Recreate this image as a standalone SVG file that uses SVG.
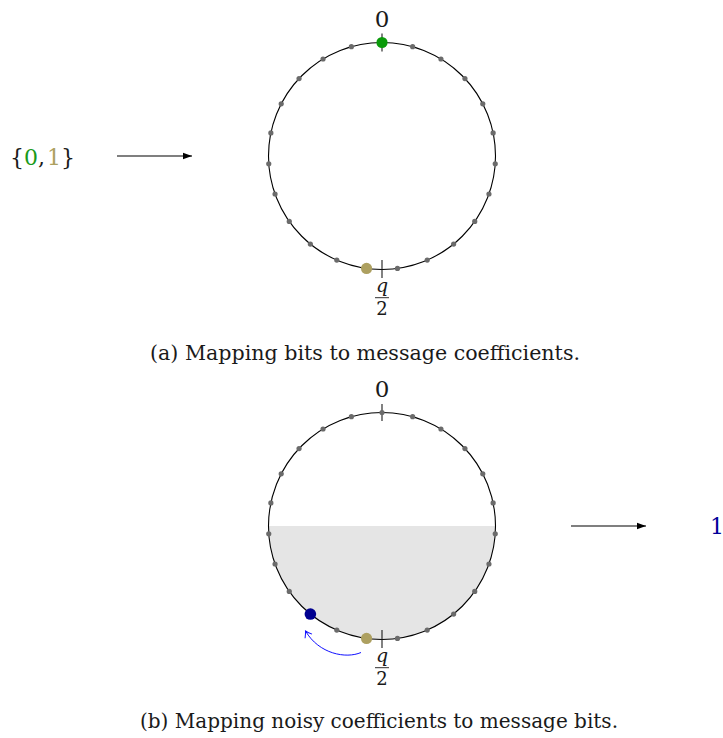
<svg xmlns="http://www.w3.org/2000/svg" width="723" height="738" viewBox="0 0 723 738">
<style>
text{font-family:"DejaVu Serif","Liberation Serif",serif}
.txt{fill:#1a1a1a}
.ring{fill:none;stroke:#000;stroke-width:1.1}
.dot{fill:#6b6b6b}
.tick{stroke:#1a1a1a;stroke-width:1.1}
.conn{stroke:#000;stroke-width:1.1;fill:none}
</style>
<defs>
<marker id="ah" markerWidth="10" markerHeight="8" refX="9" refY="4" orient="auto" markerUnits="userSpaceOnUse">
<path d="M0,0.8 L9,4 L0,7.2 Z" fill="#000"/>
</marker>
<marker id="ahBlue" markerWidth="10" markerHeight="10" refX="7" refY="5" orient="auto" markerUnits="userSpaceOnUse">
<path d="M1,1 Q5,4 7,5 Q5,6 1,9" fill="none" stroke="#1010ff" stroke-width="1"/>
</marker>
<g id="dots">
<circle class="dot" cx="382" cy="42.5" r="2.6"/>
<circle class="dot" cx="351.38" cy="46.71" r="2.6"/>
<circle class="dot" cx="323.03" cy="59.02" r="2.6"/>
<circle class="dot" cx="299.05" cy="78.53" r="2.6"/>
<circle class="dot" cx="281.22" cy="103.78" r="2.6"/>
<circle class="dot" cx="270.87" cy="132.91" r="2.6"/>
<circle class="dot" cx="268.76" cy="163.75" r="2.6"/>
<circle class="dot" cx="275.05" cy="194.01" r="2.6"/>
<circle class="dot" cx="289.27" cy="221.45" r="2.6"/>
<circle class="dot" cx="310.37" cy="244.04" r="2.6"/>
<circle class="dot" cx="336.78" cy="260.10" r="2.6"/>
<circle class="dot" cx="366.54" cy="268.44" r="2.6"/>
<circle class="dot" cx="397.46" cy="268.44" r="2.6"/>
<circle class="dot" cx="427.22" cy="260.10" r="2.6"/>
<circle class="dot" cx="453.63" cy="244.04" r="2.6"/>
<circle class="dot" cx="474.73" cy="221.45" r="2.6"/>
<circle class="dot" cx="488.95" cy="194.01" r="2.6"/>
<circle class="dot" cx="495.24" cy="163.75" r="2.6"/>
<circle class="dot" cx="493.13" cy="132.91" r="2.6"/>
<circle class="dot" cx="482.78" cy="103.78" r="2.6"/>
<circle class="dot" cx="464.95" cy="78.53" r="2.6"/>
<circle class="dot" cx="440.97" cy="59.02" r="2.6"/>
<circle class="dot" cx="412.62" cy="46.71" r="2.6"/>
</g>
</defs>

<!-- (a) -->
<g id="bits-a">
<text class="txt" x="10" y="165" font-size="22">{<tspan fill="#1a9a1a">0</tspan>,<tspan dx="2" fill="#ada060">1</tspan>}</text>
</g>
<g id="circle-a">
<circle class="ring" cx="382" cy="156" r="113.5"/>
<line class="tick" x1="382" y1="33.5" x2="382" y2="51.5"/>
<line class="tick" x1="382" y1="260" x2="382" y2="278"/>
<use href="#dots"/>
<circle cx="382" cy="42.5" r="5.6" fill="#0a9a0a"/>
<circle cx="366.54" cy="268.44" r="5.6" fill="#ada060"/>
<text class="txt" x="382" y="27" font-size="23" text-anchor="middle">0</text>
<text class="txt" x="382" y="292" font-size="19" font-style="italic" text-anchor="middle">q</text>
<line x1="375" y1="297.7" x2="389" y2="297.7" stroke="#1a1a1a" stroke-width="0.9"/>
<text class="txt" x="382" y="315" font-size="18" text-anchor="middle">2</text>
</g>
<g id="caption-a">
<text class="txt" x="150" y="360" font-size="20" textLength="430" lengthAdjust="spacingAndGlyphs">(a) Mapping bits to message coefficients.</text>
</g>

<!-- (b) -->
<g id="circle-b">
<path d="M268.5,526 A113.5,113.5 0 0 0 495.5,526 Z" fill="#e5e5e5"/>
<circle class="ring" cx="382" cy="526" r="113.5"/>
<line class="tick" x1="382" y1="404" x2="382" y2="421"/>
<line class="tick" x1="382" y1="630" x2="382" y2="648"/>
<use href="#dots" transform="translate(0,370)"/>
<circle cx="366.54" cy="638.44" r="5.6" fill="#ada060"/>
<circle cx="310.37" cy="614.04" r="5.8" fill="#000090"/>
<text class="txt" x="382" y="397" font-size="23" text-anchor="middle">0</text>
<text class="txt" x="382" y="662" font-size="19" font-style="italic" text-anchor="middle">q</text>
<line x1="375" y1="667.7" x2="389" y2="667.7" stroke="#1a1a1a" stroke-width="0.9"/>
<text class="txt" x="382" y="685" font-size="18" text-anchor="middle">2</text>
</g>
<g id="bit-b">
<text x="710" y="534" font-size="22" fill="#000099">1</text>
</g>
<g id="caption-b">
<text class="txt" x="140" y="728" font-size="20" textLength="478" lengthAdjust="spacingAndGlyphs">(b) Mapping noisy coefficients to message bits.</text>
</g>

<g id="connectors">
<line class="conn" x1="117" y1="156" x2="192" y2="156" marker-end="url(#ah)"/>
<line class="conn" x1="571" y1="526" x2="646" y2="526" marker-end="url(#ah)"/>
<path d="M361,652.5 C346,659 319,654 305.5,631" fill="none" stroke="#1010ff" stroke-width="1" marker-end="url(#ahBlue)"/>
</g>
</svg>
